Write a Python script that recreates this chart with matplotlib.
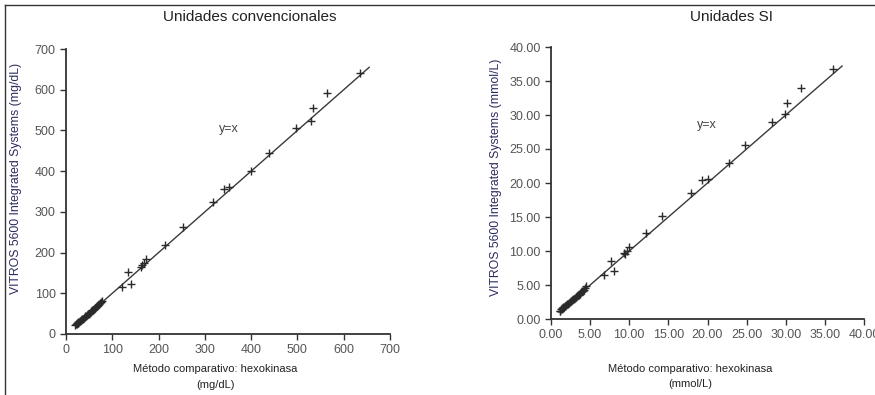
import matplotlib
matplotlib.use("Agg")
import matplotlib.pyplot as plt
from matplotlib.lines import Line2D
from matplotlib.ticker import FormatStrFormatter

plt.rcParams['font.family'] = ['Liberation Sans', 'DejaVu Sans']

# Conventional units (mg/dL): comparative method vs VITROS 5600
conv_x = [20, 22, 23, 24, 25, 26, 27, 28, 30, 31, 33, 34, 36, 38, 40, 42, 44, 45,
          47, 49, 51, 53, 55, 57, 58, 60, 62, 63, 65, 66, 68, 70, 71, 73, 75, 77,
          120, 141, 134, 161, 165, 168, 173, 214, 253, 317, 341, 353, 400, 439,
          496, 529, 534, 564, 636]
conv_y = [22, 24, 26, 25, 27, 29, 28, 30, 32, 33, 34, 36, 37, 39, 41, 44, 45, 47,
          48, 50, 52, 55, 56, 58, 60, 62, 63, 65, 67, 68, 70, 72, 74, 76, 78, 82,
          116, 123, 152, 164, 170, 174, 183, 219, 264, 324, 357, 360, 401, 444,
          505, 524, 554, 591, 642]

# SI units (mmol/L)
si_x = [1.10, 1.20, 1.25, 1.35, 1.40, 1.50, 1.55, 1.65, 1.75, 1.85, 1.95, 2.05,
        2.15, 2.30, 2.40, 2.50, 2.60, 2.70, 2.85, 2.95, 3.05, 3.15, 3.25, 3.35,
        3.45, 3.55, 3.65, 3.75, 3.85, 3.95, 4.05, 4.20, 4.35, 4.50,
        6.8, 7.7, 8.0, 9.3, 9.5, 9.7, 10.0, 12.1, 14.2, 17.9, 19.3, 20.0, 22.7,
        24.8, 28.2, 29.96, 30.2, 31.9, 36.04]
si_y = [1.25, 1.20, 1.40, 1.45, 1.55, 1.60, 1.70, 1.75, 1.85, 1.95, 2.05, 2.15,
        2.25, 2.40, 2.45, 2.60, 2.65, 2.80, 2.90, 3.00, 3.10, 3.20, 3.30, 3.45,
        3.50, 3.60, 3.75, 3.85, 3.95, 4.05, 4.15, 4.30, 4.55, 4.85,
        6.5, 8.6, 7.1, 9.7, 9.5, 10.0, 10.6, 12.6, 15.1, 18.6, 20.4, 20.6, 23.0,
        25.6, 29.0, 30.1, 31.7, 33.9, 36.8]

conv_line = [20, 655]
si_line = [1.0, 37.2]

conv_ticks = [0, 100, 200, 300, 400, 500, 600, 700]
si_ticks = [0, 5, 10, 15, 20, 25, 30, 35, 40]

TICK_COLOR = '#555555'
DARK = '#333333'
YLABEL_COLOR = '#2b2b5e'

fig = plt.figure(figsize=(8.75, 3.95), dpi=100, facecolor='white')

# page frame (top and left rules)
fig.add_artist(Line2D([0.0057, 1.0], [0.987, 0.987], color=DARK, lw=1.0))
fig.add_artist(Line2D([0.0057, 0.0057], [0.0, 0.987], color=DARK, lw=1.0))

fig.text(250 / 875, 1 - 17 / 395, 'Unidades convencionales', ha='center', va='center',
         fontsize=11, color='#222222')
fig.text(731 / 875, 1 - 17 / 395, 'Unidades SI', ha='center', va='center',
         fontsize=11, color='#222222')


def style_axes(ax):
    ax.spines['top'].set_visible(False)
    ax.spines['right'].set_visible(False)
    for s in ('left', 'bottom'):
        ax.spines[s].set_color(DARK)
        ax.spines[s].set_linewidth(1.3)
    ax.tick_params(direction='out', length=4, width=1.0, colors=DARK,
                   labelcolor=TICK_COLOR, labelsize=9)


# 1. Conventional units
ax1 = fig.add_axes([66 / 875, 61 / 395, 324 / 875, 285 / 395])
ax1.plot(conv_line, conv_line, color='#3a3a3a', lw=1.0, zorder=2)
ax1.scatter(conv_x, conv_y, marker='+', s=40, color='#2a2a2a', linewidths=1.0, zorder=3)
ax1.text(352, 504, 'y=x', ha='center', va='center', fontsize=9, color='#444444')
ax1.set_xlim(0, 700)
ax1.set_ylim(0, 700)
ax1.set_xticks(conv_ticks)
ax1.set_yticks(conv_ticks)
style_axes(ax1)
ax1.set_xlabel('Método comparativo: hexokinasa\n(mg/dL)', fontsize=8, color='#222222',
               linespacing=1.7)
ax1.xaxis.set_label_coords(0.46, -0.105)
ax1.set_ylabel('VITROS 5600 Integrated Systems (mg/dL)', fontsize=8.8, color=YLABEL_COLOR)
ax1.yaxis.set_label_coords(-0.135, 0.545)

# 2. SI units
ax2 = fig.add_axes([551 / 875, 76 / 395, 313 / 875, 272 / 395])
ax2.plot(si_line, si_line, color='#3a3a3a', lw=1.0, zorder=2)
ax2.scatter(si_x, si_y, marker='+', s=40, color='#2a2a2a', linewidths=1.0, zorder=3)
ax2.text(19.9, 28.6, 'y=x', ha='center', va='center', fontsize=9, color='#444444')
ax2.set_xlim(0, 40)
ax2.set_ylim(0, 40)
ax2.set_xticks(si_ticks)
ax2.set_yticks(si_ticks)
ax2.xaxis.set_major_formatter(FormatStrFormatter('%.2f'))
ax2.yaxis.set_major_formatter(FormatStrFormatter('%.2f'))
style_axes(ax2)
ax2.set_xlabel('Método comparativo: hexokinasa\n(mmol/L)', fontsize=8, color='#222222',
               linespacing=1.7)
ax2.xaxis.set_label_coords(0.444, -0.165)
ax2.set_ylabel('VITROS 5600 Integrated Systems (mmol/L)', fontsize=8.8, color=YLABEL_COLOR)
ax2.yaxis.set_label_coords(-0.155, 0.52)

fig.savefig('out.png', dpi=100, facecolor='white')
